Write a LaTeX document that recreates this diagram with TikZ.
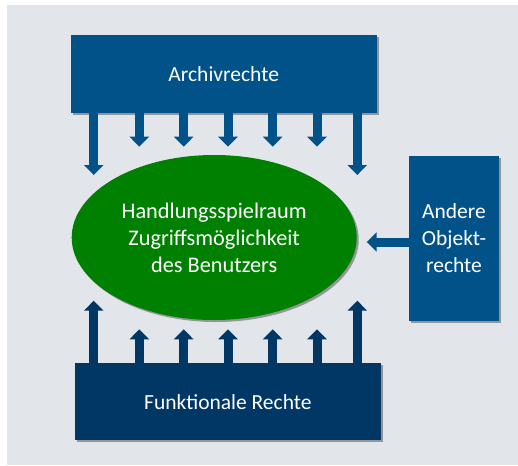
\documentclass[tikz,border=0pt]{standalone}
\usepackage{fontspec}
\setmainfont{Carlito}
\usetikzlibrary{arrows.meta,shadows,shapes.geometric}
\definecolor{bg}{HTML}{E2E6EA}
\definecolor{topblue}{HTML}{02528A}
\definecolor{navy}{HTML}{003764}
\definecolor{grn}{HTML}{008000}
\begin{document}
\begin{tikzpicture}[x=1pt,y=-1pt,
  shad/.style={drop shadow={shadow xshift=2pt,shadow yshift=-2pt,opacity=0.35,fill=black}},
  box/.style={rectangle,shad,text=white,inner sep=0pt,align=center,font=\fontsize{21.5}{27}\selectfont},
  arr/.style={line width=9pt,-{Triangle[width=19pt,length=10pt]}},
]
\useasboundingbox (0,0) rectangle (518,465);
\fill[bg] (7,5) rectangle (518,465);

\node[box,fill=topblue,minimum width=306pt,minimum height=77.7pt] (arch) at (223.7,73.85) {Archivrechte};
\node[box,fill=navy,minimum width=305.7pt,minimum height=76.7pt] (funk) at (227.85,401.65) {Funktionale Rechte};
\node[box,fill=topblue,minimum width=89.4pt,minimum height=165pt] (obj) at (454,238.5) {Andere\\Objekt-\\rechte};
\node[box,ellipse,fill=grn,minimum width=285pt,minimum height=165pt,font=\fontsize{22.3}{27}\selectfont] (ell) at (214.2,237.5) {Handlungsspielraum\\Zugriffsmöglichkeit\\des Benutzers};

% top arrows
\coordinate (t1) at (93.7,175);
\coordinate (t2) at (139.3,146.7);
\coordinate (t3) at (183.7,146.7);
\coordinate (t4) at (228,146.7);
\coordinate (t5) at (272.7,146.7);
\coordinate (t6) at (317,146.7);
\coordinate (t7) at (357.3,175);
\foreach \c in {t1,t2,t3,t4,t5,t6,t7}
  \draw[arr,topblue] (arch.south -| \c) -- (\c);

% bottom arrows
\coordinate (b1) at (93.7,300.7);
\coordinate (b2) at (139.3,329.3);
\coordinate (b3) at (183.7,329.3);
\coordinate (b4) at (228,329.3);
\coordinate (b5) at (272.7,329.3);
\coordinate (b6) at (317,329.3);
\coordinate (b7) at (357.3,300.7);
\foreach \c in {b1,b2,b3,b4,b5,b6,b7}
  \draw[arr,navy] (funk.north -| \c) -- (\c);

% left arrow
\coordinate (lt) at (366.7,242);
\draw[arr,topblue] (obj.west |- lt) -- (lt);
\end{tikzpicture}
\end{document}
